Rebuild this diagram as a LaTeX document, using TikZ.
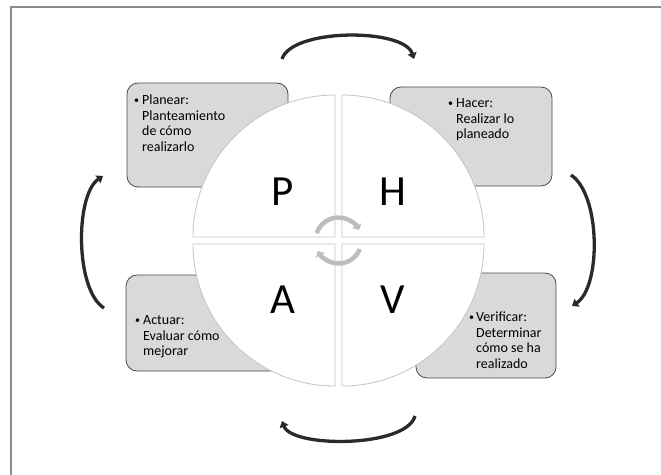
\documentclass[tikz,border=0pt]{standalone}
\usepackage{fontspec}
\setmainfont{Carlito}
\usetikzlibrary{arrows.meta}
\definecolor{boxfill}{HTML}{D9D9D9}
\definecolor{boxline}{HTML}{4A4A4A}
\definecolor{quadline}{HTML}{C4C4C4}
\definecolor{cyclegray}{HTML}{BDBDBD}
\definecolor{arrowdark}{HTML}{2A2A2A}
\definecolor{framegray}{HTML}{8C8C8C}
\newcommand{\pdcabul}[1]{\makebox[#1][l]{\raisebox{1.3pt}{\fontsize{10}{10}\selectfont\textbullet}}}
\begin{document}
\begin{tikzpicture}[x=1pt,y=-1pt,
  infobox/.style={draw=boxline, line width=0.8pt, fill=boxfill, rounded corners=11pt, inner sep=0pt},
  boxtext/.style={align=left, inner sep=0pt, anchor=base west, font=\fontsize{14}{15.6}\selectfont},
  quadrant/.style={draw=quadline, line width=0.8pt, fill=white},
  letter/.style={inner sep=0pt, font=\fontsize{43}{46}\selectfont},
  cyclearrow/.style={draw=cyclegray, line width=4.5pt, -{Triangle[length=5pt,width=10pt]}},
  bigarrow/.style={draw=arrowdark, line width=3.3pt, -{Triangle[length=6pt,width=9pt]}}
]
\useasboundingbox (0,0) rectangle (661,474);
\fill[white] (0,0) rectangle (661,474);
% frame
\draw[framegray, line width=1.3pt] (11,480) -- (11,7) -- (670,7);

% info boxes
\node[infobox, minimum width=161pt, minimum height=104pt] (bplan) at (207.5,135) {};
\node[infobox, minimum width=162pt, minimum height=99pt] (bhacer) at (471,136.5) {};
\node[infobox, minimum width=162pt, minimum height=96pt] (bactuar) at (207,323) {};
\node[infobox, minimum width=140pt, minimum height=105pt] (bverif) at (486,325.5) {};

% circle quadrants
\path[quadrant] (335,237) -- (193,237) arc[start angle=180, end angle=270, radius=142] -- cycle;
\path[quadrant] (342,237) -- (342,95) arc[start angle=270, end angle=360, radius=142] -- cycle;
\path[quadrant] (342,244) -- (484,244) arc[start angle=0, end angle=90, radius=142] -- cycle;
\path[quadrant] (335,244) -- (335,386) arc[start angle=90, end angle=180, radius=142] -- cycle;

% box texts (base anchor = baseline of the last line)
\node[boxtext] (tplan) at (134,151.3) {\pdcabul{8pt}Planear:\\\hspace*{8pt}Planteamiento\\\hspace*{8pt}de cómo\\\hspace*{8pt}realizarlo};
\node[boxtext] (thacer) at (448,138.7) {\pdcabul{8pt}Hacer:\\\hspace*{8pt}Realizar lo\\\hspace*{8pt}planeado};
\node[boxtext] (tactuar) at (135,355.7) {\pdcabul{8pt}Actuar:\\\hspace*{8pt}Evaluar cómo\\\hspace*{8pt}mejorar};
\node[boxtext] (tverif) at (469,368.3) {\pdcabul{7pt}Verificar:\\\hspace*{7pt}Determinar\\\hspace*{7pt}cómo se ha\\\hspace*{7pt}realizado};

% letters
\node[letter] (lp) at (283,192) {P};
\node[letter] (lh) at (393,192) {H};
\node[letter] (la) at (283,300) {A};
\node[letter] (lv) at (393,300) {V};

% central cycle arrows
\coordinate (cyc) at (338.5,240.5);
\draw[cyclearrow] (cyc) ++(199:23) arc[start angle=199, end angle=333, radius=23];
\draw[cyclearrow] (cyc) ++(22:23) arc[start angle=22, end angle=153, radius=23];

% outer curved arrows
\coordinate (ts) at (282,59);
\coordinate (te) at (414,59);
\coordinate (rs) at (571,175);
\coordinate (re) at (572,306);
\coordinate (bs) at (415,416);
\coordinate (be) at (282,421);
\coordinate (ls) at (104,308);
\coordinate (le) at (103,176);
\draw[bigarrow] (ts) .. controls (292,28) and (404,28) .. (te);
\draw[bigarrow] (rs) .. controls (601,195) and (601,287) .. (re);
\draw[bigarrow] (bs) .. controls (406,448) and (292,448) .. (be);
\draw[bigarrow] (ls) .. controls (75,290) and (75,195) .. (le);
\end{tikzpicture}
\end{document}
